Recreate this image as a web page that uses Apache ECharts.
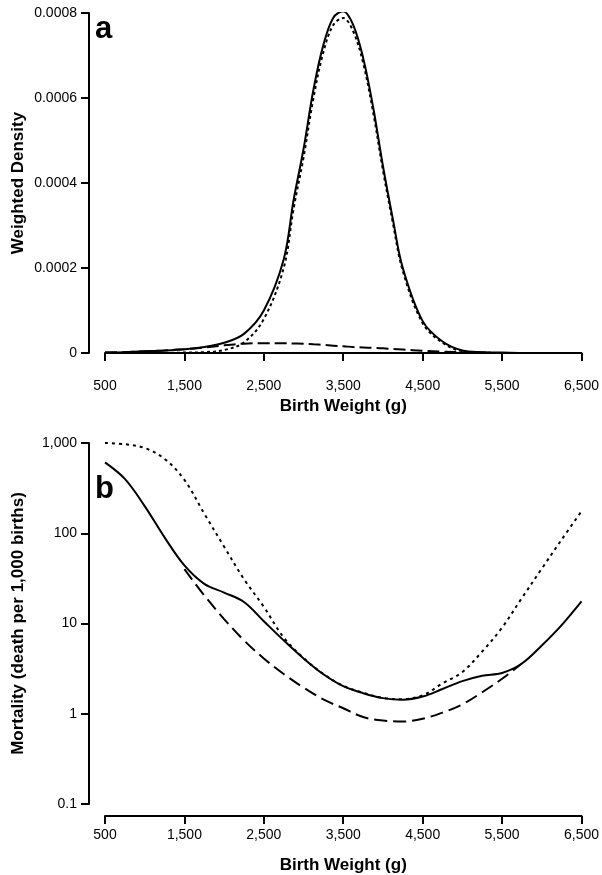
<!DOCTYPE html>
<html>
<head>
<meta charset="utf-8">
<script src="https://cdn.jsdelivr.net/npm/echarts@6/dist/echarts.min.js"></script>
<style>
html,body{margin:0;padding:0;background:#fff;}
#chart{width:602px;height:875px;}
</style>
</head>
<body>
<div id="chart"></div>
<script>
// ---- Panel a: weighted density ----
const weightsA = [500, 750, 1000, 1250, 1500, 1750, 2000, 2250, 2500, 2750, 2875, 3000, 3125, 3250, 3375, 3500, 3625, 3750, 3875, 4000, 4125, 4250, 4500, 4750, 5000, 5250, 5500, 6000, 6500];
const solidA   = [0.000001, 0.000002, 0.000004, 0.000006, 0.000009, 0.000014, 0.000024, 0.000045, 0.000100, 0.000220, 0.000360, 0.000480, 0.000620, 0.000725, 0.000789, 0.000804, 0.000772, 0.000695, 0.000580, 0.000440, 0.000315, 0.000200, 0.000075, 0.000027, 0.000006, 0.000002, 0.000001, 0, 0];
const dottedA  = [0, 0, 0, 0, 0.000001, 0.000002, 0.000007, 0.000025, 0.000080, 0.000200, 0.000340, 0.000460, 0.000600, 0.000708, 0.000772, 0.000788, 0.000757, 0.000683, 0.000568, 0.000430, 0.000306, 0.000193, 0.000070, 0.000024, 0.000004, 0.000001, 0, 0, 0];
const dashedA  = [0.000001, 0.000002, 0.000004, 0.000006, 0.000009, 0.000013, 0.000018, 0.000022, 0.000023, 0.000023, 0.0000225, 0.000022, 0.0000205, 0.000019, 0.000017, 0.000016, 0.000014, 0.000013, 0.000012, 0.000011, 0.0000095, 0.000008, 0.000005, 0.000003, 0.000002, 0.000001, 0, 0, 0];

// ---- Panel b: mortality (log scale) ----
const weightsB = [500, 750, 1000, 1250, 1500, 1750, 2000, 2250, 2500, 2750, 3000, 3250, 3500, 3750, 4000, 4250, 4500, 4750, 5000, 5250, 5500, 5750, 6000, 6250, 6500];
const solidB   = [610, 400, 200, 90, 44, 27.5, 22, 17.3, 10.6, 6.5, 4.1, 2.74, 2.02, 1.69, 1.49, 1.43, 1.55, 1.88, 2.3, 2.64, 2.83, 3.6, 5.7, 9.6, 17.6];
const dottedB  = [1000, 970, 880, 668, 391, 165, 71, 31, 15.3, 7.0, 4.15, 2.76, 2.04, 1.71, 1.5, 1.45, 1.6, 2.17, 2.9, 4.9, 9.0, 19.2, 40.5, 85, 175];
const weightsBDashed = [1500, 1750, 2000, 2250, 2500, 2750, 3000, 3250, 3500, 3750, 4000, 4250, 4500, 4750, 5000, 5250, 5500, 5750];
const dashedB  = [40, 20.5, 11.2, 6.5, 4.1, 2.76, 1.95, 1.44, 1.15, 0.92, 0.84, 0.82, 0.88, 1.03, 1.27, 1.73, 2.44, 3.6];

// ---- Tick labels ----
const xTicks = [500, 1500, 2500, 3500, 4500, 5500, 6500];
const yTicksA = [0, 0.0002, 0.0004, 0.0006, 0.0008];
const yTicksB = [0.1, 1, 10, 100, 1000];

const FONT = "'Liberation Sans', Arial, sans-serif";
const pairs = (xs, ys) => xs.map((x, i) => [x, ys[i]]);
const fmtThousands = v => Number(v).toLocaleString('en-US');

const axisLine = { show: true, lineStyle: { color: '#000', width: 2 } };
const axisTick = { show: true, inside: false, length: 8, lineStyle: { color: '#000', width: 2 } };
const labelBase = { color: '#000', fontFamily: FONT, fontSize: 14, margin: 12 };
const nameStyle = { color: '#000', fontFamily: FONT, fontSize: 17, fontWeight: 'bold' };

function xAxis(gridIndex, offset, gap) {
  return {
    type: 'value', gridIndex, min: 500, max: 6500, offset,
    axisLine, splitLine: { show: false },
    axisTick: Object.assign({}, axisTick, { customValues: xTicks }),
    axisLabel: Object.assign({}, labelBase, { customValues: xTicks, formatter: fmtThousands }),
    name: 'Birth Weight (g)', nameLocation: 'middle', nameGap: gap, nameMoveOverlap: false, nameTextStyle: nameStyle
  };
}

function line(name, xi, yi, data, type) {
  return {
    name, type: 'line', xAxisIndex: xi, yAxisIndex: yi, data,
    showSymbol: false, smooth: 0.35, silent: true,
    lineStyle: { color: '#000', width: 2, type: type },
    z: type === 'solid' ? 5 : 3
  };
}

const chart = echarts.init(document.getElementById('chart'), null, { renderer: 'canvas' });
chart.setOption({
  animation: false,
  backgroundColor: '#fff',
  grid: [
    { left: 105, width: 478, top: 13, height: 340 },
    { left: 105, width: 478, top: 443, height: 361 }
  ],
  xAxis: [xAxis(0, 14, 31), xAxis(1, 12, 41)],
  yAxis: [
    {
      type: 'value', gridIndex: 0, min: 0, max: 0.0008, interval: 0.0002, offset: 16,
      axisLine, axisTick, splitLine: { show: false },
      axisLabel: Object.assign({}, labelBase, { customValues: yTicksA, formatter: v => v === 0 ? '0' : v.toFixed(4) }),
      name: 'Weighted Density', nameLocation: 'middle', nameGap: 62, nameMoveOverlap: false, nameTextStyle: nameStyle
    },
    {
      type: 'log', gridIndex: 1, min: 0.1, max: 1000, logBase: 10, offset: 16,
      axisLine, axisTick, splitLine: { show: false }, minorTick: { show: false },
      axisLabel: Object.assign({}, labelBase, { customValues: yTicksB, formatter: v => v < 1 ? String(v) : fmtThousands(v) }),
      name: 'Mortality (death per 1,000 births)', nameLocation: 'middle', nameGap: 62, nameMoveOverlap: false, nameTextStyle: nameStyle
    }
  ],
  series: [
    line('dashed a', 0, 0, pairs(weightsA, dashedA), [12, 5]),
    line('dotted a', 0, 0, pairs(weightsA, dottedA), [3, 3]),
    line('solid a', 0, 0, pairs(weightsA, solidA), 'solid'),
    line('dashed b', 1, 1, pairs(weightsBDashed, dashedB), [13, 6]),
    line('dotted b', 1, 1, pairs(weightsB, dottedB), [3, 4]),
    line('solid b', 1, 1, pairs(weightsB, solidB), 'solid')
  ],
  graphic: [
    { type: 'text', left: 95, top: 14, style: { text: 'a', font: "bold 31px 'Liberation Sans', Arial, sans-serif", fill: '#000' } },
    { type: 'text', left: 95, top: 474, style: { text: 'b', font: "bold 31px 'Liberation Sans', Arial, sans-serif", fill: '#000' } }
  ]
});
</script>
</body>
</html>
